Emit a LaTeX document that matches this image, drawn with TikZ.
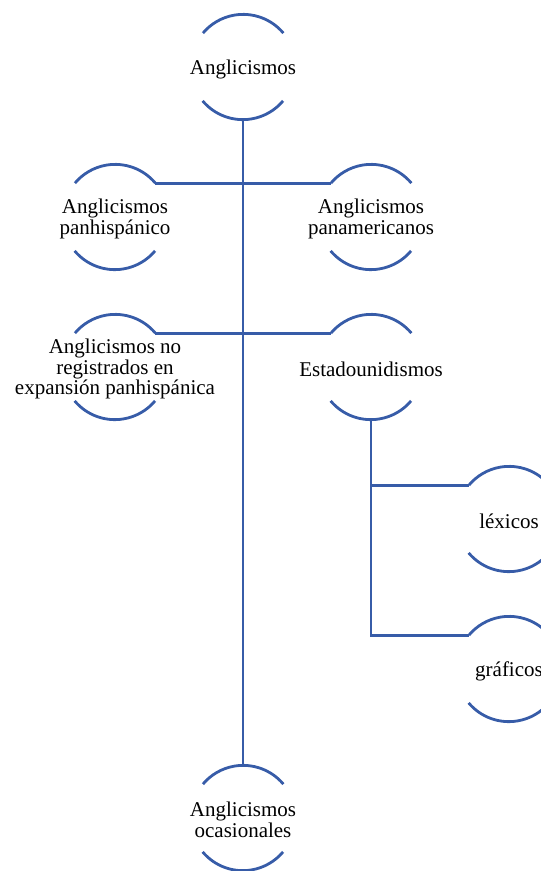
\documentclass[tikz,border=0pt]{standalone}
\usepackage{fontspec}
\setmainfont{Liberation Serif}
\definecolor{lineblue}{RGB}{55,92,168}
\begin{document}
\begin{tikzpicture}[x=1pt,y=1pt,
  circ/.style={circle,minimum size=105pt,inner sep=0pt,draw=none},
  txt/.style={align=center,inner sep=0pt,yshift=-2pt,
    font=\fontsize{21}{20.5}\selectfont},
  lnk/.style={draw=lineblue,line width=2.8pt},
  arcs/.style={draw=lineblue,line width=2.8pt}]
\useasboundingbox (0,0) rectangle (541,-871);
\clip (0,0) rectangle (541,-871);
\node[circ] (top) at (243,-67) {};
\node[circ] (panh) at (115,-217) {};
\node[circ] (pana) at (371,-217) {};
\node[circ] (noreg) at (115,-367) {};
\node[circ] (est) at (371,-367) {};
\node[circ] (lex) at (509,-519) {};
\node[circ] (gra) at (509,-669) {};
\node[circ] (ocas) at (243,-818) {};
\node[txt] (topt) at (top) {Anglicismos};
\node[txt] (panht) at (panh) {Anglicismos\\panhispánico};
\node[txt] (panat) at (pana) {Anglicismos\\panamericanos};
\node[txt] (noregt) at (noreg) {Anglicismos no\\registrados en\\expansión panhispánica};
\node[txt] (estt) at (est) {Estadounidismos};
\node[txt] (lext) at (lex) {léxicos};
\node[txt] (grat) at (gra) {gráficos};
\node[txt] (ocast) at (ocas) {Anglicismos\\ocasionales};
\foreach \n in {top,panh,pana,noreg,est,lex,gra,ocas}{
  \draw[arcs] (\n.40) arc[start angle=40,end angle=140,radius=52.5pt];
  \draw[arcs] (\n.220) arc[start angle=220,end angle=320,radius=52.5pt];
}
\draw[lnk] (top.south) -- (ocas.north);
\draw[lnk] (panh.40) -- (pana.140);
\draw[lnk] (noreg.40) -- (est.140);
\draw[lnk] (est.south) |- (lex.140);
\draw[lnk] (est.south) |- (gra.140);
\end{tikzpicture}
\end{document}
